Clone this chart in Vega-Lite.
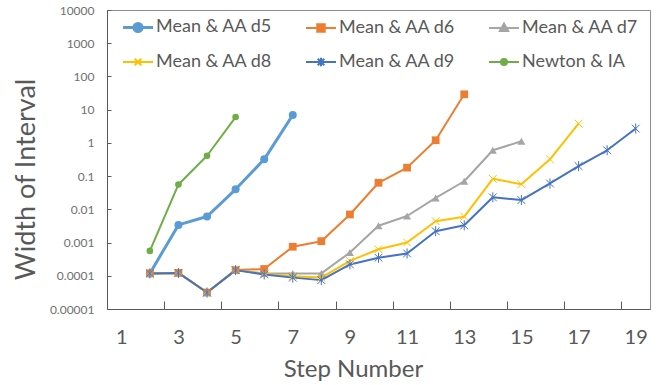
{
  "$schema": "https://vega.github.io/schema/vega-lite/v6.json",
  "width": 543,
  "height": 299,
  "autosize": "none",
  "padding": {"left": 107, "top": 10, "right": 16, "bottom": 76},
  "background": "white",
  "config": {
    "font": "Lato",
    "view": {"stroke": "#8c8c8c", "strokeWidth": 1}
  },
  "data": {
    "values": [
      {"s": "Mean & AA d5", "x": 2, "y": 0.000118},
      {"s": "Mean & AA d5", "x": 3, "y": 0.0034},
      {"s": "Mean & AA d5", "x": 4, "y": 0.0061},
      {"s": "Mean & AA d5", "x": 5, "y": 0.04},
      {"s": "Mean & AA d5", "x": 6, "y": 0.32},
      {"s": "Mean & AA d5", "x": 7, "y": 6.9},
      {"s": "Mean & AA d6", "x": 2, "y": 0.000118},
      {"s": "Mean & AA d6", "x": 3, "y": 0.000122},
      {"s": "Mean & AA d6", "x": 4, "y": 0.0000313},
      {"s": "Mean & AA d6", "x": 5, "y": 0.000148},
      {"s": "Mean & AA d6", "x": 6, "y": 0.00016},
      {"s": "Mean & AA d6", "x": 7, "y": 0.00075},
      {"s": "Mean & AA d6", "x": 8, "y": 0.0011},
      {"s": "Mean & AA d6", "x": 9, "y": 0.007},
      {"s": "Mean & AA d6", "x": 10, "y": 0.063},
      {"s": "Mean & AA d6", "x": 11, "y": 0.18},
      {"s": "Mean & AA d6", "x": 12, "y": 1.2},
      {"s": "Mean & AA d6", "x": 13, "y": 29},
      {"s": "Mean & AA d7", "x": 2, "y": 0.000118},
      {"s": "Mean & AA d7", "x": 3, "y": 0.000122},
      {"s": "Mean & AA d7", "x": 4, "y": 0.0000313},
      {"s": "Mean & AA d7", "x": 5, "y": 0.000148},
      {"s": "Mean & AA d7", "x": 6, "y": 0.000118},
      {"s": "Mean & AA d7", "x": 7, "y": 0.000118},
      {"s": "Mean & AA d7", "x": 8, "y": 0.000118},
      {"s": "Mean & AA d7", "x": 9, "y": 0.0005},
      {"s": "Mean & AA d7", "x": 10, "y": 0.0032},
      {"s": "Mean & AA d7", "x": 11, "y": 0.0063},
      {"s": "Mean & AA d7", "x": 12, "y": 0.022},
      {"s": "Mean & AA d7", "x": 13, "y": 0.07},
      {"s": "Mean & AA d7", "x": 14, "y": 0.6},
      {"s": "Mean & AA d7", "x": 15, "y": 1.12},
      {"s": "Mean & AA d8", "x": 2, "y": 0.000118},
      {"s": "Mean & AA d8", "x": 3, "y": 0.000122},
      {"s": "Mean & AA d8", "x": 4, "y": 0.0000313},
      {"s": "Mean & AA d8", "x": 5, "y": 0.000148},
      {"s": "Mean & AA d8", "x": 6, "y": 0.000115},
      {"s": "Mean & AA d8", "x": 7, "y": 0.0000975},
      {"s": "Mean & AA d8", "x": 8, "y": 0.000088},
      {"s": "Mean & AA d8", "x": 9, "y": 0.00028},
      {"s": "Mean & AA d8", "x": 10, "y": 0.00063},
      {"s": "Mean & AA d8", "x": 11, "y": 0.001},
      {"s": "Mean & AA d8", "x": 12, "y": 0.0044},
      {"s": "Mean & AA d8", "x": 13, "y": 0.006},
      {"s": "Mean & AA d8", "x": 14, "y": 0.083},
      {"s": "Mean & AA d8", "x": 15, "y": 0.057},
      {"s": "Mean & AA d8", "x": 16, "y": 0.32},
      {"s": "Mean & AA d8", "x": 17, "y": 3.8},
      {"s": "Mean & AA d9", "x": 2, "y": 0.000118},
      {"s": "Mean & AA d9", "x": 3, "y": 0.000122},
      {"s": "Mean & AA d9", "x": 4, "y": 0.0000313},
      {"s": "Mean & AA d9", "x": 5, "y": 0.000148},
      {"s": "Mean & AA d9", "x": 6, "y": 0.00011},
      {"s": "Mean & AA d9", "x": 7, "y": 0.000088},
      {"s": "Mean & AA d9", "x": 8, "y": 0.000074},
      {"s": "Mean & AA d9", "x": 9, "y": 0.00022},
      {"s": "Mean & AA d9", "x": 10, "y": 0.00035},
      {"s": "Mean & AA d9", "x": 11, "y": 0.00047},
      {"s": "Mean & AA d9", "x": 12, "y": 0.0022},
      {"s": "Mean & AA d9", "x": 13, "y": 0.0033},
      {"s": "Mean & AA d9", "x": 14, "y": 0.023},
      {"s": "Mean & AA d9", "x": 15, "y": 0.019},
      {"s": "Mean & AA d9", "x": 16, "y": 0.06},
      {"s": "Mean & AA d9", "x": 17, "y": 0.2},
      {"s": "Mean & AA d9", "x": 18, "y": 0.6},
      {"s": "Mean & AA d9", "x": 19, "y": 2.7},
      {"s": "Newton & IA", "x": 2, "y": 0.00056},
      {"s": "Newton & IA", "x": 3, "y": 0.056},
      {"s": "Newton & IA", "x": 4, "y": 0.41},
      {"s": "Newton & IA", "x": 5, "y": 6.0}
    ]
  },
  "encoding": {
    "x": {
      "field": "x",
      "type": "quantitative",
      "scale": {"domain": [0.5, 19.5], "nice": false, "zero": false},
      "axis": {
        "title": "Step Number",
        "titleFont": "Lato",
        "titleFontSize": 24,
        "titleFontWeight": "normal",
        "titleColor": "#595959",
        "titleX": 246,
        "titleY": 67,
        "titleBaseline": "alphabetic",
        "titleAlign": "center",
        "values": [1, 2.5, 3, 4.5, 5, 6.5, 7, 8.5, 9, 10.5, 11, 12.5, 13, 14.5, 15, 16.5, 17, 18.5, 19],
        "labelExpr": "datum.value % 2 === 1 ? datum.label : ''",
        "labelFont": "Lato",
        "labelFontSize": 20,
        "labelColor": "#595959",
        "labelPadding": 26,
        "labelOverlap": false,
        "labelFlush": false,
        "tickSize": -8,
        "tickColor": "#595959",
        "tickOpacity": {"condition": {"test": "datum.value % 1 === 0", "value": 0}, "value": 1},
        "domainColor": "#595959",
        "grid": false
      }
    },
    "y": {
      "field": "y",
      "type": "quantitative",
      "scale": {"type": "log", "domain": [0.00001, 10000], "nice": false},
      "axis": {
        "title": "Width of Interval",
        "titleFont": "Lato",
        "titleFontSize": 27,
        "titleFontWeight": "normal",
        "titleColor": "#595959",
        "titleX": -81,
        "titleY": 169,
        "titleAngle": -90,
        "titleBaseline": "middle",
        "titleAlign": "center",
        "values": [0.00001, 0.0001, 0.001, 0.01, 0.1, 1, 10, 100, 1000, 10000],
        "format": ".5~f",
        "labelFont": "Lato",
        "labelFontSize": 12,
        "labelColor": "#707070",
        "labelPadding": 17,
        "labelOverlap": false,
        "labelFlush": false,
        "tickSize": -4,
        "tickColor": "#595959",
        "domainColor": "#595959",
        "grid": false
      }
    },
    "color": {
      "field": "s",
      "type": "nominal",
      "scale": {
        "domain": ["Mean & AA d5", "Mean & AA d6", "Mean & AA d7", "Mean & AA d8", "Mean & AA d9", "Newton & IA"],
        "range": ["#5B9BD5", "#ED7D31", "#A5A5A5", "#FFC000", "#4472C4", "#70AD47"]
      },
      "legend": null
    }
  },
  "layer": [
    {
      "mark": {"type": "line", "strokeJoin": "round"},
      "encoding": {
        "strokeWidth": {"condition": {"test": "datum.s === 'Mean & AA d5'", "value": 3}, "value": 2},
        "color": {
          "field": "s",
          "type": "nominal",
          "legend": {
            "title": null,
            "orient": "none",
            "legendX": 22,
            "legendY": 8,
            "direction": "horizontal",
            "columns": 3,
            "columnPadding": 29,
            "rowPadding": 15,
            "symbolSize": 900,
            "labelFont": "Lato",
            "labelFontSize": 18,
            "labelColor": "#595959",
            "labelOffset": 9,
            "labelLimit": 300,
            "encode": {
              "symbols": {
                "update": {
                  "shape": {"signal": "datum.value === 'Mean & AA d5' ? 'M-1,0H1M0.27,0A0.27,0.27,0,1,1,-0.27,0A0.27,0.27,0,1,1,0.27,0Z' : datum.value === 'Mean & AA d6' ? 'M-1,0H1M-0.25,-0.25H0.25V0.25H-0.25Z' : datum.value === 'Mean & AA d7' ? 'M-1,0H1M0,-0.3L0.28,0.2H-0.28Z' : datum.value === 'Mean & AA d8' ? 'M-1,0H1M-0.22,-0.22L0.22,0.22M-0.22,0.22L0.22,-0.22' : datum.value === 'Mean & AA d9' ? 'M-1,0H1M-0.22,-0.22L0.22,0.22M-0.22,0.22L0.22,-0.22M0,-0.28V0.28' : 'M-1,0H1M0.2,0A0.2,0.2,0,1,1,-0.2,0A0.2,0.2,0,1,1,0.2,0Z'"},
                  "size": {"value": 900},
                  "stroke": {"signal": "scale('color', datum.value)"},
                  "fill": {"signal": "(datum.value === 'Mean & AA d8' || datum.value === 'Mean & AA d9') ? 'transparent' : scale('color', datum.value)"},
                  "strokeWidth": {"signal": "datum.value === 'Mean & AA d5' ? 3 : 2"},
                  "opacity": {"value": 1}
                }
              }
            }
          }
        }
      }
    },
    {
      "transform": [{"filter": "datum.s === 'Mean & AA d5'"}],
      "mark": {"type": "point", "shape": "circle", "filled": true, "opacity": 1, "size": 64}
    },
    {
      "transform": [{"filter": "datum.s === 'Mean & AA d6'"}],
      "mark": {"type": "point", "shape": "square", "filled": true, "opacity": 1, "size": 60}
    },
    {
      "transform": [{"filter": "datum.s === 'Mean & AA d7'"}],
      "mark": {"type": "point", "shape": "triangle-up", "filled": true, "opacity": 1, "size": 64}
    },
    {
      "transform": [{"filter": "datum.s === 'Mean & AA d8'"}],
      "mark": {"type": "point", "shape": "M-1,-1L1,1M-1,1L1,-1", "filled": false, "opacity": 1, "size": 60, "strokeWidth": 1}
    },
    {
      "transform": [{"filter": "datum.s === 'Mean & AA d9'"}],
      "mark": {"type": "point", "shape": "M-1,-1L1,1M-1,1L1,-1M0,-1.3V1.3", "filled": false, "opacity": 1, "size": 60, "strokeWidth": 1}
    },
    {
      "transform": [{"filter": "datum.s === 'Newton & IA'"}],
      "mark": {"type": "point", "shape": "circle", "filled": true, "opacity": 1, "size": 44}
    }
  ]
}
